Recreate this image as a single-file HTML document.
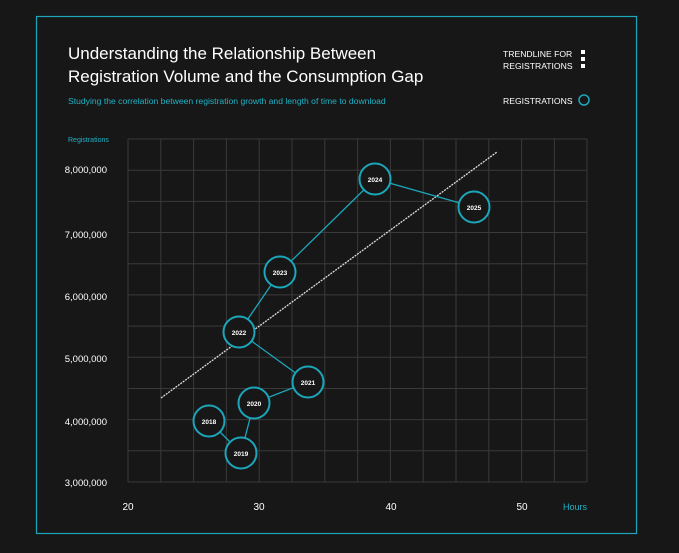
<!DOCTYPE html>
<html><head><style>
body{margin:0;background:#171717;width:679px;height:553px;overflow:hidden;font-family:"Liberation Sans",sans-serif}
</style></head><body>
<svg width="679" height="553" xmlns="http://www.w3.org/2000/svg" style="position:absolute;left:0;top:0">
<rect x="36.5" y="16.5" width="600" height="517" fill="none" stroke="#1ca6ba" stroke-width="1.2"/>
<text x="68" y="59" fill="#fff" font-size="17">Understanding the Relationship Between</text>
<text x="68" y="82" fill="#fff" font-size="17">Registration Volume and the Consumption Gap</text>
<text x="68" y="104" fill="#1fb3c6" font-size="8.6">Studying the correlation between registration growth and length of time to download</text>
<text x="503" y="57" fill="#fff" font-size="8.6">TRENDLINE FOR</text>
<text x="503" y="69" fill="#fff" font-size="8.6">REGISTRATIONS</text>
<rect x="581" y="50" width="4" height="4" fill="#fff"/><rect x="581" y="57" width="4" height="4" fill="#fff"/><rect x="581" y="64" width="4" height="4" fill="#fff"/>
<text x="503" y="104" fill="#fff" font-size="8.6">REGISTRATIONS</text>
<circle cx="584" cy="100" r="5" fill="none" stroke="#1ca6ba" stroke-width="1.5"/>
<text x="68" y="142" fill="#1fb3c6" font-size="7">Registrations</text>
<g stroke="#3a3a3a" stroke-width="1">
<line x1="128" y1="139" x2="587" y2="139"/><line x1="128" y1="170.2" x2="587" y2="170.2"/><line x1="128" y1="201.4" x2="587" y2="201.4"/><line x1="128" y1="232.5" x2="587" y2="232.5"/><line x1="128" y1="263.7" x2="587" y2="263.7"/><line x1="128" y1="294.9" x2="587" y2="294.9"/><line x1="128" y1="326.1" x2="587" y2="326.1"/><line x1="128" y1="357.3" x2="587" y2="357.3"/><line x1="128" y1="388.5" x2="587" y2="388.5"/><line x1="128" y1="419.6" x2="587" y2="419.6"/><line x1="128" y1="450.8" x2="587" y2="450.8"/><line x1="128" y1="482" x2="587" y2="482"/>
<line x1="128" y1="139" x2="128" y2="482"/><line x1="160.8" y1="139" x2="160.8" y2="482"/><line x1="193.6" y1="139" x2="193.6" y2="482"/><line x1="226.4" y1="139" x2="226.4" y2="482"/><line x1="259.2" y1="139" x2="259.2" y2="482"/><line x1="292" y1="139" x2="292" y2="482"/><line x1="324.8" y1="139" x2="324.8" y2="482"/><line x1="357.6" y1="139" x2="357.6" y2="482"/><line x1="390.4" y1="139" x2="390.4" y2="482"/><line x1="423.2" y1="139" x2="423.2" y2="482"/><line x1="456" y1="139" x2="456" y2="482"/><line x1="488.8" y1="139" x2="488.8" y2="482"/><line x1="521.6" y1="139" x2="521.6" y2="482"/><line x1="554.4" y1="139" x2="554.4" y2="482"/><line x1="587" y1="139" x2="587" y2="482"/>
</g>
<g fill="#fff" font-size="9.5" text-anchor="end">
<text x="107" y="173">8,000,000</text><text x="107" y="238">7,000,000</text><text x="107" y="300">6,000,000</text><text x="107" y="362">5,000,000</text><text x="107" y="425">4,000,000</text><text x="107" y="486">3,000,000</text>
</g>
<g fill="#fff" font-size="10" text-anchor="middle">
<text x="128" y="510">20</text><text x="259" y="510">30</text><text x="391" y="510">40</text><text x="522" y="510">50</text>
</g>
<text x="575" y="510" fill="#1fb3c6" font-size="9" text-anchor="middle">Hours</text>
<line x1="161" y1="398" x2="497" y2="152" stroke="#ddd" stroke-width="1.3" stroke-dasharray="2,1"/>
<polyline points="209,421 241,453 254,403 308,382 239,332 280,272 375,179 474,207" fill="none" stroke="#1ca6ba" stroke-width="1.3"/>
<g fill="#171717" stroke="#1ca6ba" stroke-width="2">
<circle cx="209" cy="421" r="15.5"/><circle cx="241" cy="453" r="15.5"/><circle cx="254" cy="403" r="15.5"/><circle cx="308" cy="382" r="15.5"/><circle cx="239" cy="332" r="15.5"/><circle cx="280" cy="272" r="15.5"/><circle cx="375" cy="179" r="15.5"/><circle cx="474" cy="207" r="15.5"/>
</g>
<g fill="#fff" font-size="6.5" font-weight="bold" text-anchor="middle">
<text x="209" y="424">2018</text><text x="241" y="456">2019</text><text x="254" y="406">2020</text><text x="308" y="385">2021</text><text x="239" y="335">2022</text><text x="280" y="275">2023</text><text x="375" y="182">2024</text><text x="474" y="210">2025</text>
</g>
</svg>
</body></html>
